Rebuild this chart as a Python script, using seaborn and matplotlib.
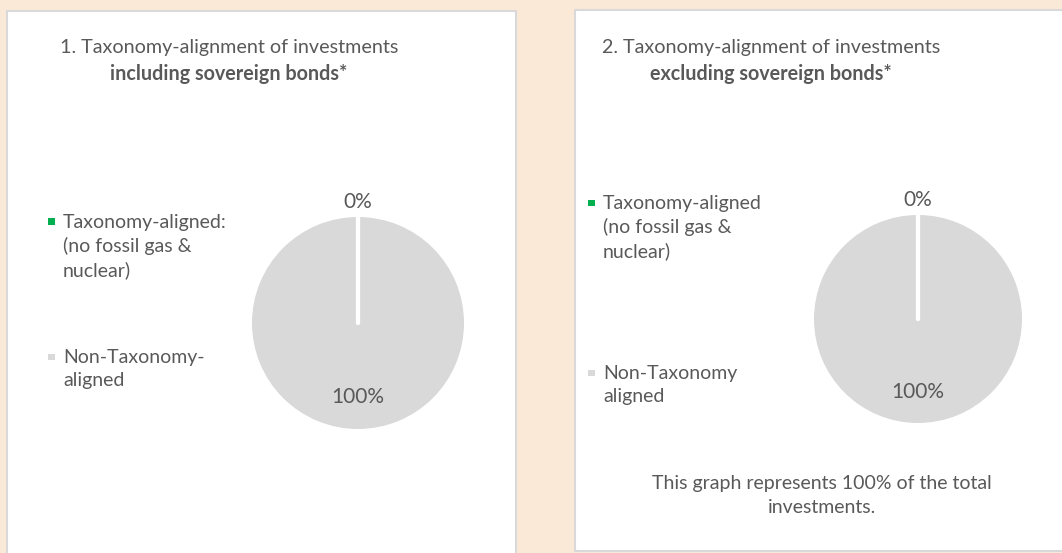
import numpy as np
import matplotlib.pyplot as plt
import seaborn as sns
from matplotlib.patches import Rectangle

# Data
categories = ["Taxonomy-aligned", "Non-Taxonomy-aligned"]
incl_sovereign = [0, 100]
excl_sovereign = [0, 100]
legend_incl = ["Taxonomy-aligned:\n(no fossil gas &\nnuclear)", "Non-Taxonomy-\naligned"]
legend_excl = ["Taxonomy-aligned\n(no fossil gas &\nnuclear)", "Non-Taxonomy\naligned"]
colors = ["#00B050", "#D9D9D9"]

sns.set_theme(style="white")
plt.rcParams["font.family"] = ["Lato", "DejaVu Sans"]

W, H = 1062, 553
TXT = "#595959"
FS = 14
fig = plt.figure(figsize=(W / 100, H / 100), dpi=100)
fig.patch.set_facecolor("#FBE9D8")


def fx(x):
    return x / W


def fy(y):
    return 1 - y / H


# white panels
for x0, y0, x1, y1 in [(7, 11, 516, 560), (575, 10, 1070, 551)]:
    fig.patches.append(Rectangle((fx(x0), fy(y1)), fx(x1 - x0), (y1 - y0) / H,
                                 transform=fig.transFigure, facecolor="white",
                                 edgecolor="#D9D9D9", lw=1.5, zorder=-5))


def draw_panel(values, labels, title1, title2, tx, cx, cy, r, lx, ly):
    fig.text(fx(tx), fy(48), title1, ha="center", va="center", fontsize=14.2, color=TXT)
    fig.text(fx(tx), fy(74), title2, ha="center", va="center", fontsize=14.2,
             color=TXT, fontweight="bold")

    lim = 1.4
    size = 2 * lim * r
    ax = fig.add_axes([fx(cx - size / 2), fy(cy + size / 2), size / W, size / H])
    ax.pie(values, colors=colors, startangle=90, counterclock=False, radius=1,
           wedgeprops=dict(linewidth=0))
    ax.set_xlim(-lim, lim)
    ax.set_ylim(-lim, lim)
    ax.set_aspect("equal")
    ax.axis("off")
    ax.patch.set_alpha(0)

    # slice boundary line and labels, from the data
    total = sum(values)
    start = 90.0
    for v in values:
        a = np.deg2rad(start)
        ax.plot([0, np.cos(a)], [0, np.sin(a)], color="white", lw=3,
                solid_capstyle="round")
        mid = np.deg2rad(start - 360 * v / total / 2)
        d = 1.14 if v / total < 0.1 else 0.7
        ax.text(d * np.cos(mid), d * np.sin(mid), f"{v}%", ha="center",
                va="center", fontsize=15, color=TXT)
        start -= 360 * v / total

    for i, (lab, col) in enumerate(zip(labels, colors)):
        y = ly[i]
        fig.patches.append(Rectangle((fx(lx - 3), fy(y + 3)), 6.5 / W, 6.5 / H,
                                     transform=fig.transFigure, facecolor=col,
                                     edgecolor="none"))
        fig.text(fx(lx + 12), fy(y - 8), lab, ha="left", va="top", fontsize=FS,
                 color=TXT, linespacing=1.42)


draw_panel(incl_sovereign, legend_incl, "1. Taxonomy-alignment of investments",
           "including sovereign bonds*", 229, 358, 323, 106, 51, [222, 357])
draw_panel(excl_sovereign, legend_excl, "2. Taxonomy-alignment of investments",
           "excluding sovereign bonds*", 771, 918, 319, 104, 591, [203, 373])

fig.text(fx(822), fy(475), "This graph represents 100% of the total\ninvestments.",
         ha="center", va="top", fontsize=FS, color=TXT, linespacing=1.5)

fig.savefig("out.png", dpi=100, facecolor=fig.get_facecolor())
